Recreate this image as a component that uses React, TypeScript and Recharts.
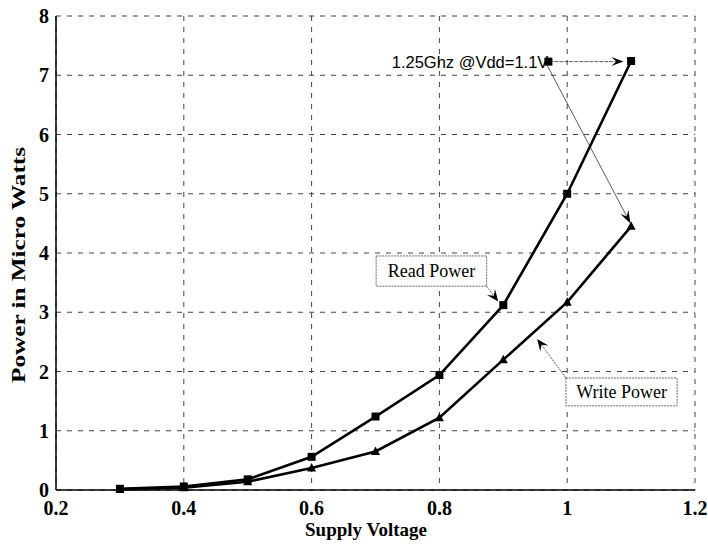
import React from 'react';
import {
  LineChart, Line, XAxis, YAxis, CartesianGrid, ReferenceLine, ReferenceArea, ReferenceDot,
} from 'recharts';

const voltage = [0.3, 0.4, 0.5, 0.6, 0.7, 0.8, 0.9, 1.0, 1.1];
const readPower = [0.02, 0.06, 0.18, 0.56, 1.24, 1.94, 3.12, 5.0, 7.24];
const writePower = [0.01, 0.04, 0.14, 0.37, 0.65, 1.22, 2.2, 3.17, 4.45];
const xTicks = [0.2, 0.4, 0.6, 0.8, 1.0, 1.2];
const yTicks = [0, 1, 2, 3, 4, 5, 6, 7, 8];

const data = voltage.map((v, i) => ({ v, read: readPower[i], write: writePower[i] }));

const SERIF = 'Liberation Serif, Times New Roman, serif';
const SANS = 'Liberation Sans, Arial, sans-serif';

const SquareDot = (p: any) => {
  const { cx, cy } = p;
  if (cx == null || cy == null) return null;
  return <rect x={cx - 4} y={cy - 4} width={8} height={8} fill="#000" />;
};
const TriDot = (p: any) => {
  const { cx, cy } = p;
  if (cx == null || cy == null) return null;
  return <polygon points={`${cx},${cy - 5} ${cx - 4.5},${cy + 3.5} ${cx + 4.5},${cy + 3.5}`} fill="#000" />;
};

const makeArrow = (headLen: number, headW: number, width: number, dash?: string) => (p: any) => {
  const { x1, y1, x2, y2 } = p;
  if ([x1, y1, x2, y2].some((n) => n == null || isNaN(n))) return null;
  const dx = x2 - x1, dy = y2 - y1;
  const L = Math.sqrt(dx * dx + dy * dy) || 1;
  const ux = dx / L, uy = dy / L;
  const bx = x2 - ux * headLen, by = y2 - uy * headLen;
  const nx = -uy, ny = ux;
  const pts = `${x2},${y2} ${bx + nx * headW / 2},${by + ny * headW / 2} ${x2 - ux * headLen * 0.6},${y2 - uy * headLen * 0.6} ${bx - nx * headW / 2},${by - ny * headW / 2}`;
  return (
    <g>
      <line x1={x1} y1={y1} x2={x2 - ux * headLen * 0.6} y2={y2 - uy * headLen * 0.6} stroke="#333" strokeWidth={width} strokeDasharray={dash} />
      <polygon points={pts} fill="#000" />
    </g>
  );
};

const makeBox = (text: string) => (p: any) => {
  const { x, y, width, height } = p;
  if ([x, y, width, height].some((n) => n == null || isNaN(n))) return null;
  return (
    <g>
      <rect x={x} y={y} width={width} height={height} fill="#fff" stroke="#666" strokeWidth={1} strokeDasharray="2 1" />
      <text x={x + width / 2} y={y + height / 2 + 6} textAnchor="middle" fontFamily={SERIF} fontSize={18} fill="#000">{text}</text>
    </g>
  );
};

const FreqLabel = (p: any) => {
  const { cx, cy } = p;
  if (cx == null || cy == null) return null;
  return (
    <g>
      <text x={cx + 1} y={cy + 6} textAnchor="end" fontFamily={SANS} fontSize={16.5} fill="#000">1.25Ghz @Vdd=1.1V</text>
      <rect x={cx - 3} y={cy - 4} width={8} height={8} fill="#000" />
    </g>
  );
};

const YLabel = () => (
  <text
    transform="translate(25,265) rotate(-90)"
    textAnchor="middle"
    fontFamily={SERIF}
    fontWeight="bold"
    fontSize={19}
    fill="#000"
    textLength={236}
    lengthAdjust="spacingAndGlyphs"
  >
    Power in Micro Watts
  </text>
);

const XLabel = () => (
  <text x={366} y={536} textAnchor="middle" fontFamily={SERIF} fontWeight="bold" fontSize={19} fill="#000">
    Supply Voltage
  </text>
);

const tickStyle = { fontFamily: SERIF, fontWeight: 'bold', fontSize: 20, fill: '#000' } as any;

export default function App() {
  return (
    <div style={{ position: 'absolute', left: 0, top: 0, background: '#fff' }}>
      <LineChart width={708} height={544} data={data} margin={{ top: 16, right: 13, left: 0, bottom: 0 }}>
        <CartesianGrid stroke="#444" strokeDasharray="5 6" strokeWidth={1} />
        <XAxis
          dataKey="v"
          type="number"
          domain={[0.2, 1.2]}
          ticks={xTicks}
          tickFormatter={(t: number) => String(Number(t.toFixed(1)))}
          height={54}
          tickLine={false}
          tickSize={0}
          tickMargin={11}
          tick={tickStyle}
          axisLine={{ stroke: '#000', strokeWidth: 1.5 }}
          interval={0}
          allowDataOverflow
        />
        <XAxis xAxisId="top" orientation="top" type="number" domain={[0.2, 1.2]} height={0} tick={false} tickLine={false} axisLine={{ stroke: '#000', strokeWidth: 1 }} />
        <YAxis
          type="number"
          domain={[0, 8]}
          ticks={yTicks}
          width={56}
          tickLine={false}
          tickSize={0}
          tickMargin={7}
          tick={tickStyle}
          axisLine={{ stroke: '#000', strokeWidth: 1.5 }}
          interval={0}
        />
        <YAxis yAxisId="right" orientation="right" type="number" domain={[0, 8]} width={0} tick={false} tickLine={false} axisLine={{ stroke: '#000', strokeWidth: 1 }} />
        <Line dataKey="read" stroke="#000" strokeWidth={2.6} dot={<SquareDot />} isAnimationActive={false} />
        <Line dataKey="write" stroke="#000" strokeWidth={2.6} dot={<TriDot />} isAnimationActive={false} />
        <ReferenceLine segment={[{ x: 0.972, y: 7.23 }, { x: 1.088, y: 7.23 }]} shape={makeArrow(12, 9, 0.8, '4 1')} />
        <ReferenceLine segment={[{ x: 0.968, y: 7.18 }, { x: 1.099, y: 4.5 }]} shape={makeArrow(13, 9, 0.8)} />
        <ReferenceLine segment={[{ x: 0.874, y: 3.44 }, { x: 0.892, y: 3.18 }]} shape={makeArrow(12, 10, 0.8, '2 1')} />
        <ReferenceLine segment={[{ x: 0.998, y: 1.89 }, { x: 0.953, y: 2.55 }]} shape={makeArrow(12, 10, 0.8, '2 1')} />
        <ReferenceArea x1={0.701} x2={0.874} y1={3.44} y2={3.95} shape={makeBox('Read Power')} />
        <ReferenceArea x1={0.998} x2={1.172} y1={1.42} y2={1.89} shape={makeBox('Write Power')} />
        <ReferenceDot x={0.969} y={7.23} shape={<FreqLabel />} />
        <YLabel />
        <XLabel />
      </LineChart>
    </div>
  );
}
